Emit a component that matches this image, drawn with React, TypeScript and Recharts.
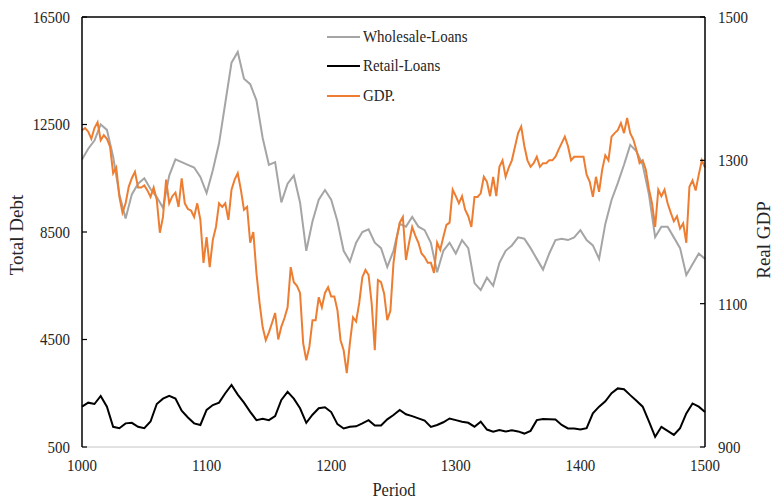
import { LineChart, Line, XAxis, YAxis, ReferenceLine, Legend } from 'recharts'

// loans: one reading every 5 periods, 1000 .. 1500
const loanPeriods = Array.from({ length: 101 }, (_, i) => 1000 + i * 5)
// GDP moves faster, so it is kept every 2.5 periods
const gdpPeriods = Array.from({ length: 201 }, (_, i) => 1000 + i * 2.5)

const wholesaleLoans = [
    11200, 11600, 11900, 12500, 12300, 11300, 9900, 9000, 9900, 10300, // 1000
    10500, 10100, 9800, 9400, 10600, 11200, 11100, 11000, 10900, 10550, // 1050
    9950, 10800, 11800, 13300, 14800, 15200, 14200, 14000, 13400, 12000, // 1100
    11000, 11100, 9600, 10300, 10600, 9600, 7800, 8900, 9700, 10060, // 1150
    9700, 8900, 7800, 7400, 8100, 8500, 8600, 8100, 7900, 7200, // 1200
    7800, 8800, 8700, 9060, 8700, 8570, 8100, 7000, 7800, 8100, // 1250
    7700, 8200, 7900, 6600, 6340, 6800, 6500, 7350, 7800, 8000, // 1300
    8300, 8250, 7900, 7500, 7100, 7700, 8200, 8250, 8200, 8300, // 1350
    8570, 8200, 8000, 7500, 8800, 9690, 10320, 11000, 11740, 11500, // 1400
    11000, 9900, 8310, 8700, 8700, 8300, 7900, 6900, 7300, 7700, // 1450
    7500, // 1500
]

const retailLoans = [
    2000, 2150, 2100, 2400, 2000, 1250, 1200, 1380, 1400, 1250, // 1000
    1200, 1450, 2100, 2300, 2400, 2300, 1850, 1600, 1380, 1320, // 1050
    1880, 2060, 2150, 2500, 2810, 2450, 2150, 1810, 1500, 1550, // 1100
    1500, 1650, 2250, 2550, 2300, 1940, 1400, 1700, 1940, 1980, // 1150
    1800, 1350, 1190, 1250, 1270, 1380, 1500, 1300, 1300, 1530, // 1200
    1690, 1880, 1720, 1650, 1565, 1480, 1250, 1320, 1420, 1560, // 1250
    1500, 1440, 1400, 1255, 1440, 1150, 1070, 1130, 1080, 1120, // 1300
    1080, 1000, 1100, 1500, 1540, 1530, 1520, 1320, 1190, 1190, // 1350
    1150, 1200, 1750, 2000, 2200, 2500, 2680, 2650, 2430, 2220, // 1400
    2000, 1450, 880, 1250, 1100, 950, 1200, 1750, 2120, 2000, // 1450
    1800, // 1500
]

const realGdp = [
    1342, 1345, 1340, 1330, 1345, 1353, 1328, 1335, 1330, 1319, // 1000
    1282, 1290, 1249, 1227, 1240, 1263, 1275, 1284, 1262, 1262, // 1025
    1265, 1258, 1249, 1262, 1245, 1199, 1221, 1273, 1240, 1250, // 1050
    1255, 1235, 1275, 1240, 1232, 1230, 1221, 1240, 1217, 1157, // 1075
    1193, 1151, 1189, 1207, 1240, 1235, 1240, 1217, 1259, 1273, // 1100
    1282, 1259, 1231, 1235, 1185, 1200, 1143, 1101, 1067, 1049, // 1125
    1060, 1073, 1087, 1050, 1068, 1080, 1095, 1151, 1130, 1125, // 1150
    1115, 1045, 1021, 1040, 1077, 1077, 1109, 1095, 1115, 1123, // 1175
    1110, 1110, 1091, 1049, 1035, 1003, 1045, 1081, 1075, 1101, // 1200
    1137, 1147, 1140, 1100, 1035, 1133, 1130, 1114, 1077, 1090, // 1225
    1157, 1190, 1213, 1221, 1161, 1185, 1207, 1195, 1185, 1170, // 1250
    1165, 1157, 1157, 1143, 1185, 1175, 1193, 1210, 1213, 1259, // 1275
    1250, 1240, 1250, 1231, 1222, 1207, 1249, 1249, 1254, 1277, // 1300
    1270, 1250, 1277, 1250, 1291, 1300, 1277, 1290, 1300, 1319, // 1325
    1338, 1347, 1320, 1300, 1291, 1296, 1305, 1291, 1296, 1296, // 1350
    1300, 1300, 1305, 1315, 1324, 1333, 1320, 1300, 1305, 1305, // 1375
    1305, 1305, 1280, 1270, 1249, 1277, 1256, 1287, 1307, 1300, // 1400
    1333, 1338, 1342, 1352, 1338, 1359, 1338, 1329, 1314, 1296, // 1425
    1300, 1287, 1260, 1240, 1207, 1259, 1250, 1259, 1240, 1227, // 1450
    1215, 1222, 1205, 1212, 1185, 1263, 1272, 1258, 1280, 1300, // 1475
    1290, // 1500
]

const periodTicks = [1000, 1100, 1200, 1300, 1400, 1500]
const debtTicks = [500, 4500, 8500, 12500, 16500]
const gdpTicks = [900, 1100, 1300, 1500]

const seriesNames = ['Wholesale-Loans', 'Retail-Loans', 'GDP.']
const seriesColors = ['#a5a5a5', '#000000', '#ed7d31']

const FONT = '"Liberation Serif", "Times New Roman", serif'
const TEXT = '#262626'

const loanData = loanPeriods.map((period, i) => ({
    period,
    wholesale: wholesaleLoans[i],
    retail: retailLoans[i],
}))

const gdpData = gdpPeriods.map((period, i) => ({ period, gdp: realGdp[i] }))

function TickLabel({ x, y, payload, textAnchor, dy }: any) {
    return (
        <text
            transform={`translate(${x},${y}) scale(0.88,1)`}
            textAnchor={textAnchor}
            dy={dy}
            fontFamily={FONT}
            fontSize={17}
            fill={TEXT}
        >
            {payload.value}
        </text>
    )
}

function axisTitle(text: string, x: number, y: number, angle: number) {
    return () => (
        <text
            x={x}
            y={y}
            transform={angle ? `rotate(${angle} ${x} ${y})` : `translate(${x},${y}) scale(0.87,1) translate(${-x},${-y})`}
            textAnchor="middle"
            dominantBaseline="central"
            fontFamily={FONT}
            fontSize={19}
            fill={TEXT}
        >
            {text}
        </text>
    )
}

function LegendBox() {
    return (
        <div style={{ fontFamily: FONT, fontSize: 17, color: TEXT }}>
            {seriesNames.map((name, i) => (
                <div key={name} style={{ display: 'flex', alignItems: 'center', height: 29.5 }}>
                    <div style={{ width: 33, height: 2, background: seriesColors[i], marginRight: 3 }} />
                    <span style={{ display: 'inline-block', transform: 'scaleX(0.88)', transformOrigin: 'left center', whiteSpace: 'nowrap' }}>
                        {name}
                    </span>
                </div>
            ))}
        </div>
    )
}

export default function App() {
    return (
        <div style={{ width: 772, height: 500, background: '#fff' }}>
            <style>{'body{margin:0}'}</style>
            <LineChart width={772} height={500} data={loanData} margin={{ top: 17, right: 0, bottom: 0, left: 0 }}>
                <XAxis
                    dataKey="period"
                    type="number"
                    domain={[1000, 1500]}
                    ticks={periodTicks}
                    interval={0}
                    height={53}
                    tickLine={false}
                    tickSize={0}
                    tickMargin={24}
                    axisLine={{ stroke: '#d9d9d9', strokeWidth: 1.5 }}
                    tick={<TickLabel dy={0} />}
                    label={{ content: axisTitle('Period', 394, 490, 0) }}
                />
                <YAxis
                    yAxisId="debt"
                    orientation="left"
                    domain={[500, 16500]}
                    ticks={debtTicks}
                    interval={0}
                    width={82}
                    tickSize={-5}
                    tickMargin={17}
                    tickLine={{ stroke: '#000', strokeWidth: 1.2 }}
                    axisLine={{ stroke: '#000', strokeWidth: 1.5 }}
                    tick={<TickLabel dy="0.35em" />}
                    label={{ content: axisTitle('Total Debt', 16, 235, -90) }}
                />
                <YAxis
                    yAxisId="gdp"
                    orientation="right"
                    domain={[900, 1500]}
                    ticks={gdpTicks}
                    interval={0}
                    width={67}
                    tickSize={-5}
                    tickMargin={18}
                    tickLine={{ stroke: '#000', strokeWidth: 1.2 }}
                    axisLine={{ stroke: '#000', strokeWidth: 1.5 }}
                    tick={<TickLabel dy="0.35em" />}
                    label={{ content: axisTitle('Real GDP', 763, 240, -90) }}
                />
                <ReferenceLine yAxisId="debt" y={16500} stroke="#000" strokeWidth={1.5} />
                <Legend
                    layout="vertical"
                    align="center"
                    verticalAlign="middle"
                    content={<LegendBox />}
                    wrapperStyle={{ top: 22, left: 327, width: 200 }}
                />
                <Line
                    yAxisId="debt"
                    dataKey="wholesale"
                    name={seriesNames[0]}
                    type="linear"
                    stroke={seriesColors[0]}
                    strokeWidth={2}
                    dot={false}
                    isAnimationActive={false}
                />
                <Line
                    yAxisId="debt"
                    dataKey="retail"
                    name={seriesNames[1]}
                    type="linear"
                    stroke={seriesColors[1]}
                    strokeWidth={2}
                    dot={false}
                    isAnimationActive={false}
                />
                <Line
                    yAxisId="gdp"
                    data={gdpData}
                    dataKey="gdp"
                    name={seriesNames[2]}
                    type="linear"
                    stroke={seriesColors[2]}
                    strokeWidth={2}
                    dot={false}
                    isAnimationActive={false}
                />
            </LineChart>
        </div>
    )
}
